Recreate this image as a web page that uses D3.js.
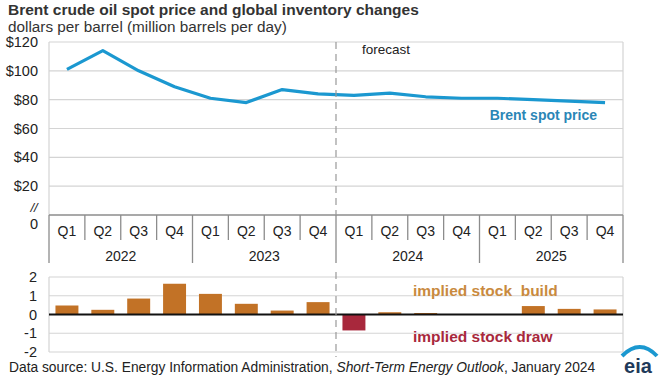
<!DOCTYPE html>
<html><head><meta charset="utf-8">
<script src="https://cdn.jsdelivr.net/npm/d3@7"></script>
<style>body{margin:0;background:#fff}svg{display:block;font-family:"Liberation Sans",Arial,sans-serif}</style>
</head><body><svg id="c" width="660" height="377"></svg>
<script>
const quarters = ["Q1","Q2","Q3","Q4","Q1","Q2","Q3","Q4","Q1","Q2","Q3","Q4","Q1","Q2","Q3","Q4"];
const years = ["2022","2023","2024","2025"];
const brentPrice = [101, 114, 100, 89, 81, 78, 87, 84, 83, 84.5, 82, 81, 81, 80, 79, 78];
const stockChange = [0.48, 0.25, 0.85, 1.64, 1.1, 0.57, 0.21, 0.66, -0.85, 0.12, 0.08, 0, 0, 0.45, 0.3, 0.27];
const priceTicks = [20, 40, 60, 80, 100, 120];
const stockTicks = [-2, -1, 0, 1, 2];

const svg = d3.select("#c");
const L = 49, R = 623;
const idx = d3.range(quarters.length);
const x = d3.scaleBand().domain(idx).range([L, R]).paddingInner(0.36).paddingOuter(0.18);
const xo = d3.scaleBand().domain(idx).range([L, R]);
const yT = d3.scaleLinear().domain([0, 120]).range([215, 42]);
const yB = d3.scaleLinear().domain([-2, 2]).range([352, 277]);
const grid = "#d4d4d4", axisC = "#8c8c8c";

// titles
svg.append("text").attr("x", 8).attr("y", 15).attr("font-size", 15.5).attr("font-weight", "bold").attr("fill", "#333").text("Brent crude oil spot price and global inventory changes");
svg.append("text").attr("x", 8).attr("y", 32).attr("font-size", 15.3).attr("fill", "#333").text("dollars per barrel (million barrels per day)");

// top grid
svg.append("g").selectAll("line").data(priceTicks).join("line")
  .attr("x1", L).attr("x2", R).attr("y1", d => yT(d)).attr("y2", d => yT(d)).attr("stroke", grid).attr("stroke-width", 1.2);
svg.append("line").attr("x1", R).attr("x2", R).attr("y1", yT(120)).attr("y2", yT(0)).attr("stroke", grid).attr("stroke-width", 1.2);
svg.append("line").attr("x1", L).attr("x2", L).attr("y1", yT(120)).attr("y2", yT(0)).attr("stroke", grid).attr("stroke-width", 1.2);
svg.append("g").selectAll("text").data(priceTicks).join("text")
  .attr("x", 38).attr("y", d => yT(d) + 5).attr("text-anchor", "end").attr("font-size", 14.5).attr("fill", "#222").text(d => "$" + d);
svg.append("text").attr("x", 34).attr("y", 212).attr("text-anchor", "middle").attr("font-size", 13).attr("fill", "#222").attr("font-style", "italic").text("//");
svg.append("text").attr("x", 34).attr("y", 229).attr("text-anchor", "middle").attr("font-size", 14.5).attr("fill", "#222").text("0");

// category axis
const axY = yT(0);
svg.append("line").attr("x1", L).attr("x2", R).attr("y1", axY).attr("y2", axY).attr("stroke", axisC).attr("stroke-width", 1.5);
svg.append("g").selectAll("line").data(d3.range(quarters.length + 1)).join("line")
  .attr("x1", i => L + i * xo.step()).attr("x2", i => L + i * xo.step())
  .attr("y1", axY).attr("y2", i => i % 4 === 0 ? 263 : 240).attr("stroke", axisC).attr("stroke-width", 1.3);
svg.append("g").selectAll("text").data(idx).join("text")
  .attr("x", i => xo(i) + xo.bandwidth() / 2).attr("y", 236).attr("text-anchor", "middle").attr("font-size", 14).attr("fill", "#222").text(i => quarters[i]);
svg.append("g").selectAll("text").data(years).join("text")
  .attr("x", (d, j) => xo(j * 4) + 2 * xo.step()).attr("y", 261).attr("text-anchor", "middle").attr("font-size", 14).attr("fill", "#222").text(d => d);

// price line
const line = d3.line().x((d, i) => xo(i) + xo.bandwidth() / 2).y(d => yT(d));
svg.append("path").datum(brentPrice).attr("d", line).attr("fill", "none").attr("stroke", "#1b98d0").attr("stroke-width", 3.2).attr("stroke-linejoin", "round");
svg.append("text").attr("x", 597).attr("y", 120).attr("text-anchor", "end").attr("font-size", 14).attr("font-weight", "bold").attr("fill", "#2a86b6").text("Brent spot price");

// bottom panel
svg.append("g").selectAll("line").data(stockTicks.filter(d => d !== 0)).join("line")
  .attr("x1", L).attr("x2", R).attr("y1", d => yB(d)).attr("y2", d => yB(d)).attr("stroke", grid).attr("stroke-width", 1.2);
svg.append("line").attr("x1", R).attr("x2", R).attr("y1", yB(2)).attr("y2", yB(-2)).attr("stroke", grid).attr("stroke-width", 1.2);
svg.append("line").attr("x1", L).attr("x2", L).attr("y1", yB(2)).attr("y2", yB(-2)).attr("stroke", grid).attr("stroke-width", 1.2);
svg.append("g").selectAll("text").data(stockTicks).join("text")
  .attr("x", 37).attr("y", d => yB(d) + 5).attr("text-anchor", "end").attr("font-size", 14.5).attr("fill", "#222").text(d => d);
svg.append("g").selectAll("rect").data(idx.filter(i => stockChange[i] !== 0)).join("rect")
  .attr("x", i => x(i)).attr("width", x.bandwidth())
  .attr("y", i => yB(Math.max(0, stockChange[i]))).attr("height", i => Math.abs(yB(stockChange[i]) - yB(0)))
  .attr("fill", i => stockChange[i] >= 0 ? "#c27226" : "#a8283c");
svg.append("line").attr("x1", L).attr("x2", R).attr("y1", yB(0)).attr("y2", yB(0)).attr("stroke", "#111").attr("stroke-width", 1.8);
svg.append("text").attr("x", 413).attr("y", 296).attr("font-size", 15.5).attr("font-weight", "bold").attr("fill", "#c98a3e").attr("xml:space", "preserve").style("white-space", "pre").text("implied stock  build");
svg.append("text").attr("x", 413).attr("y", 342).attr("font-size", 15.5).attr("font-weight", "bold").attr("fill", "#a8283c").text("implied stock draw");

// forecast divider
const fx = xo(8);
svg.append("line").attr("x1", fx).attr("x2", fx).attr("y1", 42).attr("y2", axY).attr("stroke", "#999").attr("stroke-width", 1.2).attr("stroke-dasharray", "7,5");
svg.append("line").attr("x1", fx).attr("x2", fx).attr("y1", 272).attr("y2", 357).attr("stroke", "#999").attr("stroke-width", 1.2).attr("stroke-dasharray", "7,5");
svg.append("text").attr("x", 362).attr("y", 54).attr("font-size", 13.5).attr("fill", "#222").text("forecast");

// source
const src = svg.append("text").attr("x", 9).attr("y", 372).attr("font-size", 13.8).attr("fill", "#222");
src.append("tspan").text("Data source: U.S. Energy Information Administration, ");
src.append("tspan").attr("font-style", "italic").text("Short-Term Energy Outlook");
src.append("tspan").text(", January 2024");

// eia logo
svg.append("path").attr("d", "M622,356 Q640,338 657,356").attr("fill", "none").attr("stroke", "#1b98d0").attr("stroke-width", 4);
svg.append("text").attr("x", 638).attr("y", 373).attr("text-anchor", "middle").attr("font-size", 20).attr("font-weight", "bold").attr("fill", "#1f3a5a").text("eia");
</script></body></html>
